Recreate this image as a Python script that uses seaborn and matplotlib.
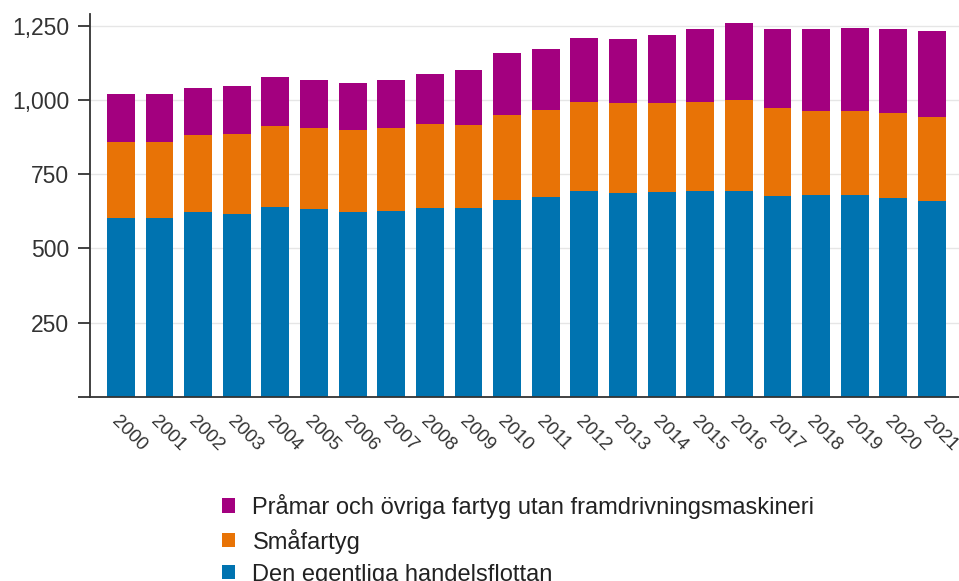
import matplotlib
matplotlib.use("Agg")
import matplotlib.pyplot as plt
import matplotlib.transforms as mtransforms
from matplotlib.patches import Patch
import seaborn as sns
import pandas as pd
import numpy as np

years = [str(y) for y in range(2000, 2022)]
handelsflottan = [602, 602, 623, 617, 641, 633, 624, 627, 637, 636, 662,
                  673, 695, 685, 689, 693, 693, 678, 679, 679, 671, 661]
smafartyg = [258, 258, 259, 269, 272, 274, 275, 280, 281, 280, 286,
             295, 300, 304, 300, 302, 307, 296, 283, 283, 284, 282]
pramar = [159, 161, 160, 162, 164, 162, 157, 162, 169, 185, 209,
          203, 214, 218, 231, 244, 259, 265, 276, 282, 286, 289]

labels = ["Pråmar och övriga fartyg utan framdrivningsmaskineri",
          "Småfartyg",
          "Den egentliga handelsflottan"]
colors = {"Den egentliga handelsflottan": "#0073b0",
          "Småfartyg": "#e87306",
          "Pråmar och övriga fartyg utan framdrivningsmaskineri": "#a3007f"}

sns.set_theme(style="white")
plt.rcParams['font.family'] = ['Liberation Sans', 'DejaVu Sans']

df = pd.DataFrame({"year": years,
                   "Den egentliga handelsflottan": handelsflottan,
                   "Småfartyg": smafartyg,
                   "Pråmar och övriga fartyg utan framdrivningsmaskineri": pramar})

fig = plt.figure(figsize=(9.59, 5.81), dpi=100)
ax = fig.add_axes([90 / 959, 1 - 396.7 / 581, 869 / 959, (396.7 - 14) / 581])

b1 = np.array(handelsflottan)
b2 = b1 + np.array(smafartyg)
b3 = b2 + np.array(pramar)
df["c1"] = b1
df["c2"] = b2
df["c3"] = b3

# draw tallest first so lower segments overlay
sns.barplot(data=df, x="year", y="c3", color=colors[labels[0]], width=0.72,
            saturation=1, ax=ax, linewidth=0)
sns.barplot(data=df, x="year", y="c2", color=colors[labels[1]], width=0.72,
            saturation=1, ax=ax, linewidth=0)
sns.barplot(data=df, x="year", y="c1", color=colors[labels[2]], width=0.72,
            saturation=1, ax=ax, linewidth=0)

ax.set_xlim(-0.8, 21.7)
ax.set_ylim(0, 1290)
ax.set_xlabel("")
ax.set_ylabel("")
ax.set_yticks([0, 250, 500, 750, 1000, 1250])
ax.set_yticklabels(["", "250", "500", "750", "1,000", "1,250"])
ax.yaxis.grid(True, color="#e6e6e6", linewidth=1)
ax.set_axisbelow(True)
for s in ["top", "right"]:
    ax.spines[s].set_visible(False)
for s in ["left", "bottom"]:
    ax.spines[s].set_color("#333333")
    ax.spines[s].set_linewidth(1.3)
ax.tick_params(axis="y", length=9, width=1.3, color="#333333",
               labelsize=16.5, labelcolor="#333333", pad=6, left=True)
ax.tick_params(axis="x", length=0, labelsize=13.5, labelcolor="#333333", pad=0)

offset = mtransforms.ScaledTranslation(-6.5 / 100, -22 / 100, fig.dpi_scale_trans)
for lbl in ax.get_xticklabels():
    lbl.set_rotation(-45)
    lbl.set_ha("left")
    lbl.set_va("center")
    lbl.set_rotation_mode("anchor")
    lbl.set_transform(lbl.get_transform() + offset)

handles = [Patch(facecolor=colors[l], edgecolor="none") for l in labels]
fig.legend(handles, labels, loc="upper left",
           bbox_to_anchor=(210 / 959, 1 - 482 / 581),
           frameon=False, fontsize=17, handlelength=0.55, handleheight=0.55,
           handletextpad=0.75, labelspacing=0.42, borderpad=0,
           labelcolor="#222222")

fig.savefig("out.png", dpi=100)
